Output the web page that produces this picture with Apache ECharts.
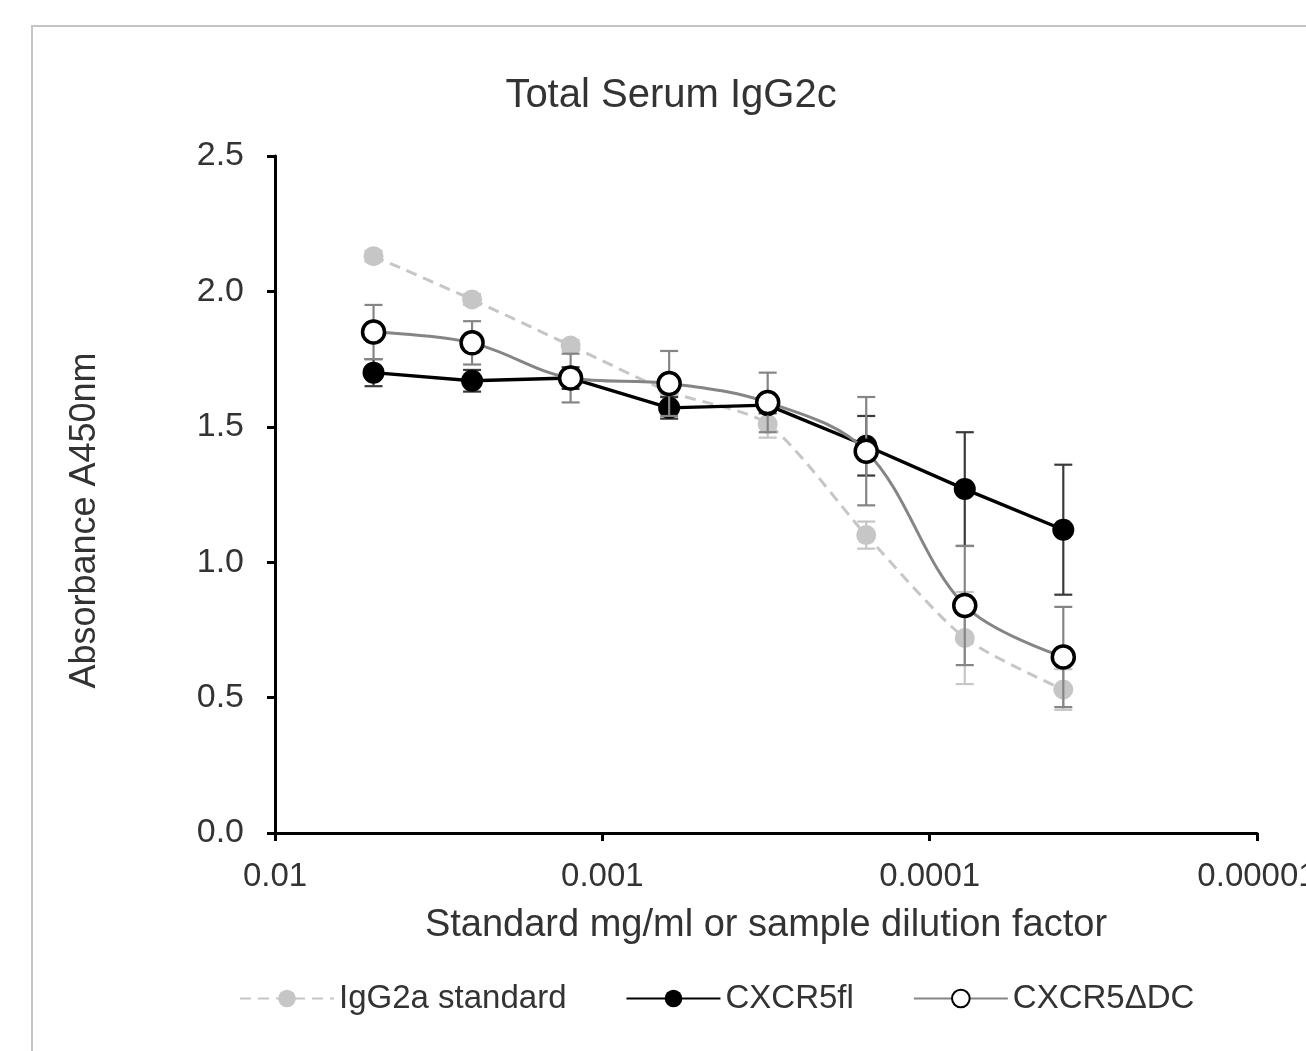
<!DOCTYPE html>
<html>
<head>
<meta charset="utf-8">
<script src="https://cdn.jsdelivr.net/npm/echarts@6/dist/echarts.min.js"></script>
<style>
html,body{margin:0;padding:0;background:#fff;}
#chart{width:1306px;height:1051px;}
</style>
</head>
<body>
<div id="chart"></div>
<script>
// ---- data ----
const dilutions = [0.005, 0.0025, 0.00125, 0.000625, 0.0003125, 0.00015625, 0.000078125, 0.0000390625];
const xTickLabels = ['0.01', '0.001', '0.0001', '0.00001'];
const seriesNames = ['IgG2a standard', 'CXCR5fl', 'CXCR5\u0394DC'];
const stdValues  = [2.13, 1.97, 1.80, 1.63, 1.51, 1.10, 0.72, 0.53];
const stdErrors  = [0.02, 0.02, 0.02, 0.02, 0.05, 0.05, 0.17, 0.075];
const flValues   = [1.70, 1.67, 1.68, 1.57, 1.58, 1.43, 1.27, 1.12];
const flErrors   = [0.05, 0.04, 0.04, 0.04, 0.03, 0.11, 0.21, 0.24];
const dcValues   = [1.85, 1.81, 1.68, 1.66, 1.59, 1.41, 0.84, 0.65];
const dcErrors   = [0.10, 0.08, 0.09, 0.12, 0.11, 0.20, 0.22, 0.185];

const FONT = '"Liberation Sans", Arial, sans-serif';
const TXT = '#333333';

function pairs(vals) { return dilutions.map((d, i) => [d, vals[i]]); }
function errTriples(vals, errs) { return dilutions.map((d, i) => [d, vals[i], errs[i]]); }

function errorSeries(name, vals, errs, color, z) {
  return {
    type: 'custom',
    name: name + ' err',
    z: z,
    silent: true,
    legendHoverLink: false,
    data: errTriples(vals, errs),
    encode: { x: 0, y: 1 },
    renderItem: function (params, api) {
      const x = api.value(0), y = api.value(1), e = api.value(2);
      const top = api.coord([x, y + e]);
      const bot = api.coord([x, y - e]);
      const cw = 9;
      const st = { stroke: color, lineWidth: 2.2 };
      return {
        type: 'group',
        children: [
          { type: 'line', shape: { x1: top[0], y1: top[1], x2: bot[0], y2: bot[1] }, style: st },
          { type: 'line', shape: { x1: top[0] - cw, y1: top[1], x2: top[0] + cw, y2: top[1] }, style: st },
          { type: 'line', shape: { x1: bot[0] - cw, y1: bot[1], x2: bot[0] + cw, y2: bot[1] }, style: st }
        ]
      };
    }
  };
}

const chart = echarts.init(document.getElementById('chart'), null, { renderer: 'canvas' });

const option = {
  backgroundColor: '#ffffff',
  animation: false,
  textStyle: { fontFamily: FONT },
  title: {
    text: 'Total Serum IgG2c',
    left: 666,
    top: 71,
    textAlign: 'center',
    textStyle: { fontFamily: FONT, fontSize: 40, fontWeight: 'normal', color: TXT }
  },
  graphic: [
    {
      type: 'rect',
      silent: true,
      z: -10,
      shape: { x: 32, y: 26, width: 1400, height: 1200 },
      style: { fill: 'none', stroke: '#c4c4c4', lineWidth: 2 }
    }
  ],
  grid: { left: 275, right: 49, top: 156, bottom: 218, containLabel: false, outerBoundsMode: 'none' },
  legend: {
    left: 234,
    top: 977,
    itemWidth: 94,
    itemHeight: 22,
    itemGap: 59,
    data: seriesNames,
    textStyle: { fontFamily: FONT, fontSize: 33, color: TXT }
  },
  xAxis: {
    type: 'log',
    logBase: 10,
    inverse: true,
    min: 0.00001,
    max: 0.01,
    name: 'Standard mg/ml or sample dilution factor',
    nameLocation: 'middle',
    nameGap: 74,
    nameTextStyle: { fontFamily: FONT, fontSize: 38, color: TXT, verticalAlign: 'top' },
    axisLine: { lineStyle: { color: '#000', width: 3 } },
    axisTick: { show: true, inside: false, length: 8, lineStyle: { color: '#000', width: 3 } },
    minorTick: { show: false },
    splitLine: { show: false },
    axisLabel: {
      margin: 27,
      fontFamily: FONT, fontSize: 33, color: TXT,
      formatter: function (v) {
        const idx = Math.round(-Math.log10(v)) - 2;
        return xTickLabels[idx] !== undefined ? xTickLabels[idx] : '';
      }
    }
  },
  yAxis: {
    type: 'value',
    min: 0,
    max: 2.5,
    interval: 0.5,
    name: 'Absorbance A450nm',
    nameLocation: 'middle',
    nameRotate: 90,
    nameGap: 172,
    nameTextStyle: { fontFamily: FONT, fontSize: 36, color: TXT, padding: [0, 52, 0, 0] },
    axisLine: { show: true, lineStyle: { color: '#000', width: 3 } },
    axisTick: { show: true, inside: false, length: 8, lineStyle: { color: '#000', width: 3 } },
    splitLine: { show: false },
    axisLabel: {
      margin: 31,
      fontFamily: FONT, fontSize: 34, color: TXT,
      formatter: function (v) { return v.toFixed(1); }
    }
  },
  series: [
    errorSeries(seriesNames[0], stdValues, stdErrors, '#c6c6c6', 1),
    {
      name: seriesNames[0],
      type: 'line',
      z: 2,
      data: pairs(stdValues),
      smooth: 0.25,
      symbol: 'circle',
      symbolSize: 20,
      itemStyle: { color: '#c6c6c6' },
      lineStyle: { color: '#c6c6c6', width: 3, type: [11, 7] }
    },
    errorSeries(seriesNames[1], flValues, flErrors, '#3a3a3a', 3),
    {
      name: seriesNames[1],
      type: 'line',
      z: 4,
      data: pairs(flValues),
      smooth: false,
      symbol: 'circle',
      symbolSize: 22,
      itemStyle: { color: '#000000' },
      lineStyle: { color: '#000000', width: 3.4 }
    },
    errorSeries(seriesNames[2], dcValues, dcErrors, '#858585', 5),
    {
      name: seriesNames[2],
      type: 'line',
      z: 6,
      data: pairs(dcValues),
      smooth: 0.35,
      symbol: 'circle',
      symbolSize: 22,
      itemStyle: { color: '#ffffff', borderColor: '#000000', borderWidth: 3.5 },
      lineStyle: { color: '#858585', width: 3 }
    }
  ]
};

chart.setOption(option);
</script>
</body>
</html>
